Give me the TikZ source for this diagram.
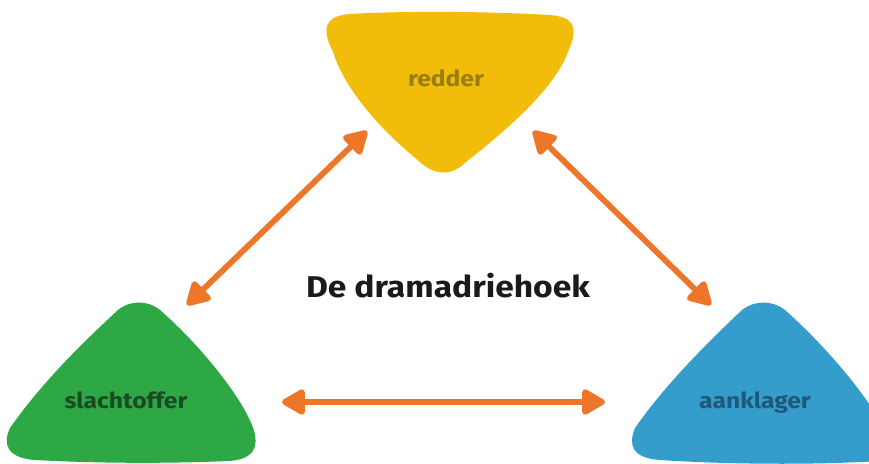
\documentclass[tikz,border=0pt]{standalone}
\usepackage{fontspec}
\setmainfont[FakeStretch=1.12]{Fira Sans}
\usetikzlibrary{arrows.meta}
\definecolor{cyellow}{HTML}{F1BD0A}
\definecolor{cgreen}{HTML}{2EA844}
\definecolor{cblue}{HTML}{349DCB}
\definecolor{corange}{HTML}{EE7628}
\definecolor{tyellow}{HTML}{9A7C12}
\definecolor{tgreen}{HTML}{1A4A24}
\definecolor{tblue}{HTML}{1F5878}
\definecolor{ttitle}{HTML}{1A1A1A}
\tikzset{
  lbl/.style={font=\bfseries\fontsize{22}{24}\selectfont, inner sep=0pt, anchor=base},
  arr/.style={line width=5.8pt, corange, line join=round,
    {Triangle[length=26pt,width=28pt,round]}-{Triangle[length=26pt,width=28pt,round]}}
}
\begin{document}
\begin{tikzpicture}[x=1pt,y=-1pt]
\useasboundingbox (0,0) rectangle (869,463);
\clip (0,0) rectangle (869,463);
\fill[white] (0,0) rectangle (869,463);
% yellow blob
\fill[cyellow] (350,14) .. controls (323,16) and (322,30) .. (333,52)
  .. controls (347,95) and (387,135) .. (420,162)
  .. controls (435,176) and (452,176) .. (466,162)
  .. controls (500,135) and (553,92) .. (568,52)
  .. controls (580,25) and (572,17) .. (550,15)
  .. controls (480,11) and (400,11) .. (350,14) -- cycle;
% green blob
\fill[cgreen] (118,310) .. controls (130,300) and (148,300) .. (160,310)
  .. controls (200,345) and (240,395) .. (252,425)
  .. controls (262,450) and (250,460) .. (228,461)
  .. controls (160,464) and (90,463) .. (35,460)
  .. controls (8,458) and (2,445) .. (10,428)
  .. controls (40,385) and (80,345) .. (118,310) -- cycle;
% blue blob
\fill[cblue] (742,310) .. controls (755,300) and (772,300) .. (785,310)
  .. controls (830,350) and (870,400) .. (885,430)
  .. controls (895,455) and (885,462) .. (860,462)
  .. controls (800,465) and (720,464) .. (660,460)
  .. controls (632,458) and (628,445) .. (635,428)
  .. controls (665,385) and (705,345) .. (742,310) -- cycle;
% labels
\node[lbl, text=tyellow] (redder) at (446,86) {redder};
\node[lbl, text=tgreen] (slacht) at (126,408) {slachtoffer};
\node[lbl, text=tblue] (aankl) at (755,408) {aanklager};
\node[font=\bfseries\fontsize{30}{32}\selectfont, text=ttitle, inner sep=0pt, anchor=base] (title) at (448,297) {De dramadriehoek};
% arrow ends
\coordinate (l1) at (187,305);
\coordinate (l2) at (367,131);
\coordinate (r1) at (533,131);
\coordinate (r2) at (711,305);
\coordinate (h1) at (282,402);
\coordinate (h2) at (605,402);
\draw[arr] (l1) -- (l2);
\draw[arr] (r1) -- (r2);
\draw[arr] (h1) -- (h2);
\end{tikzpicture}
\end{document}
